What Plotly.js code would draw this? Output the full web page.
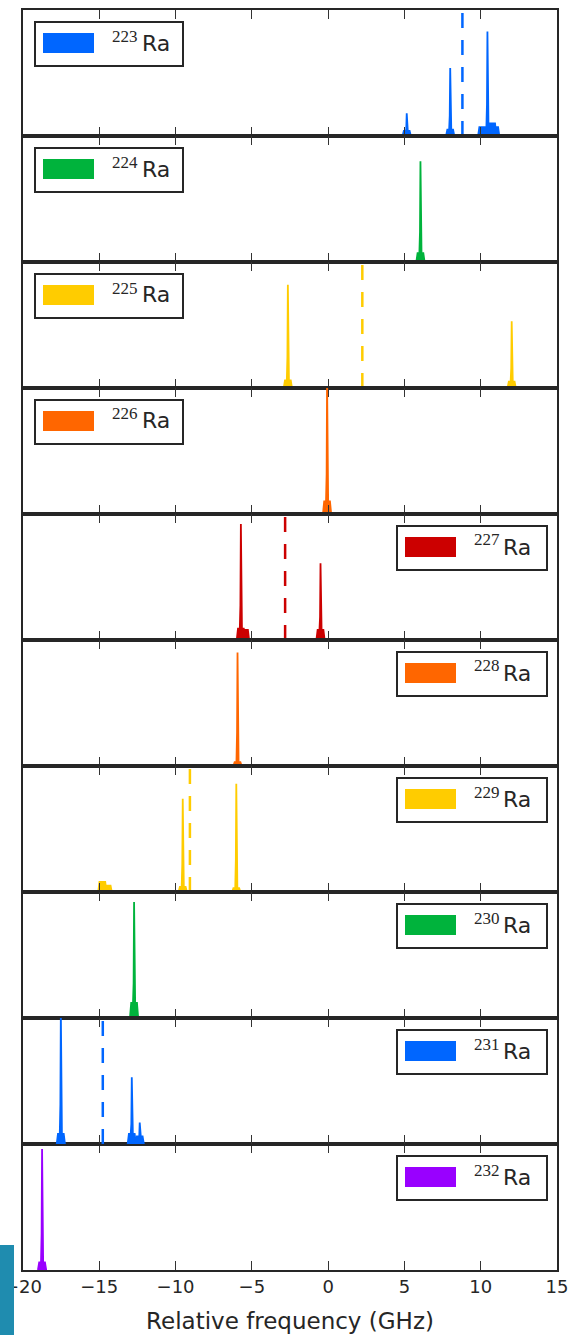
<!DOCTYPE html>
<html><head><meta charset="utf-8">
<script src="https://cdn.plot.ly/plotly-3.0.1.min.js"></script>
<style>html,body{margin:0;padding:0;background:#fff;} #chart{width:572px;height:1335px;}</style>
</head><body><div id="chart"></div>
<script>
// ---- data ----
const isotopes = ['223','224','225','226','227','228','229','230','231','232'];
const colors = ['#0066ff','#00b33c','#ffcc00','#ff6600','#cc0000','#ff6600','#ffcc00','#00b33c','#0066ff','#9900ff'];
const legendSide = ['left','left','left','left','right','right','right','right','right','right'];

// peak positions (GHz), relative peak heights, relative base heights
const ra223Pos = [5.15, 8.0, 10.1, 10.44, 10.75, 10.95];
const ra223Amp = [0.18, 0.54, 0.07, 0.83, 0.10, 0.07];
const ra223Base = [0.04, 0.05, 0.07, 0.06, 0.10, 0.07];
const ra224Pos = [6.05];
const ra224Amp = [0.80];
const ra224Base = [0.07];
const ra225Pos = [-2.64, 12.03];
const ra225Amp = [0.82, 0.53];
const ra225Base = [0.06, 0.05];
const ra226Pos = [-0.07];
const ra226Amp = [1.05];
const ra226Base = [0.10];
const ra227Pos = [-5.72, -5.45, -0.5];
const ra227Amp = [0.92, 0.08, 0.61];
const ra227Base = [0.09, 0.08, 0.08];
const ra228Pos = [-5.94];
const ra228Amp = [0.90];
const ra228Base = [0.03];
const ra229Pos = [-14.8, -14.45, -9.53, -6.02];
const ra229Amp = [0.08, 0.05, 0.74, 0.86];
const ra229Base = [0.08, 0.05, 0.04, 0.03];
const ra230Pos = [-12.72];
const ra230Amp = [0.92];
const ra230Base = [0.12];
const ra231Pos = [-17.52, -12.87, -12.35];
const ra231Amp = [1.05, 0.53, 0.17];
const ra231Base = [0.08, 0.08, 0.06];
const ra232Pos = [-18.75];
const ra232Amp = [0.96];
const ra232Base = [0.06];

// centre-of-gravity (dashed) lines
const centroids = [8.8, null, 2.24, null, -2.82, null, -9.06, null, -14.77, null];
const xTickVals = [-20, -15, -10, -5, 0, 5, 10, 15];

const allPos = [ra223Pos, ra224Pos, ra225Pos, ra226Pos, ra227Pos, ra228Pos, ra229Pos, ra230Pos, ra231Pos, ra232Pos];
const allAmp = [ra223Amp, ra224Amp, ra225Amp, ra226Amp, ra227Amp, ra228Amp, ra229Amp, ra230Amp, ra231Amp, ra232Amp];
const allBase = [ra223Base, ra224Base, ra225Base, ra226Base, ra227Base, ra228Base, ra229Base, ra230Base, ra231Base, ra232Base];

// ---- figure geometry ----
const W = 572, H = 1335;
const mL = 23, mR = 15, mT = 10, mB = 65;
const plotW = W - mL - mR, plotH = H - mT - mB;
const nP = isotopes.length;
const panelH = plotH / nP;
const px2x = p => (p - mL) / plotW;
const py2y = p => (mT + plotH - p) / plotH;

const traces = [];
const layout = {
  width: W, height: H,
  margin: {l: mL, r: mR, t: mT, b: mB, pad: 0},
  paper_bgcolor: '#fff', plot_bgcolor: '#fff',
  showlegend: false,
  font: {family: 'DejaVu Sans', color: '#262626'},
  shapes: [], annotations: []
};

function peakShape(c, h, b) {
  const w = 0.27;
  const mid = Math.max(b, 0.3 * h);
  return {
    x: [c - w, c - w * 0.7, c - 0.07, c - 0.03, c, c + 0.03, c + 0.07, c + w * 0.7, c + w, c - w],
    y: [0, b, b, mid, h, mid, b, b, 0, 0]
  };
}

for (let k = 0; k < nP; k++) {
  const xa = k === nP - 1 ? 'x' : 'x' + (k + 2);
  const ya = k === nP - 1 ? 'y' : 'y' + (k + 2);
  const xKey = xa === 'x' ? 'xaxis' : 'xaxis' + xa.slice(1);
  const yKey = ya === 'y' ? 'yaxis' : 'yaxis' + ya.slice(1);
  const col = colors[k];

  allPos[k].forEach((c, i) => {
    const s = peakShape(c, allAmp[k][i], allBase[k][i]);
    traces.push({
      type: 'scatter', mode: 'lines', x: s.x, y: s.y, xaxis: xa, yaxis: ya,
      fill: 'toself', fillcolor: col, line: {color: col, width: 1.8},
      hoverinfo: 'skip'
    });
  });
  if (centroids[k] !== null) {
    traces.push({
      type: 'scatter', mode: 'lines', x: [centroids[k], centroids[k]], y: [0, 1],
      xaxis: xa, yaxis: ya, line: {color: col, width: 2.5, dash: '15px,12px'},
      hoverinfo: 'skip'
    });
  }

  layout[xKey] = {
    anchor: ya, range: [-20, 15], tickvals: xTickVals,
    ticks: 'inside', ticklen: 9, tickwidth: 1.2, tickcolor: '#333',
    showline: true, linecolor: '#262626', linewidth: 1.6, mirror: 'ticks',
    showgrid: false, zeroline: false, fixedrange: true,
    showticklabels: k === nP - 1,
    tickfont: {family: 'DejaVu Sans', size: 18, color: '#262626'}
  };
  if (k === nP - 1) {
    layout[xKey].title = {text: 'Relative frequency (GHz)', font: {family: 'DejaVu Sans', size: 23, color: '#262626'}, standoff: 16};
  }
  layout[yKey] = {
    anchor: xa, domain: [1 - (k + 1) / nP, 1 - k / nP], range: [0, 1],
    showticklabels: false, ticks: '', showline: true, mirror: true,
    linecolor: '#262626', linewidth: 2, showgrid: false, zeroline: false, fixedrange: true
  };

  // legend box
  const top = mT + panelH * k;
  const left = legendSide[k] === 'left';
  const bx0 = left ? 35 : 397, bx1 = left ? 183 : 547;
  const patch0 = left ? 43 : 405, patch1 = left ? 94 : 456;
  const supX = left ? 111 : 473, raX = left ? 141 : 502;
  layout.shapes.push({type: 'rect', xref: 'paper', yref: 'paper',
    x0: px2x(bx0), x1: px2x(bx1), y0: py2y(top + 12), y1: py2y(top + 56),
    fillcolor: '#fff', line: {color: '#262626', width: 2}, layer: 'above'});
  layout.shapes.push({type: 'rect', xref: 'paper', yref: 'paper',
    x0: px2x(patch0), x1: px2x(patch1), y0: py2y(top + 23), y1: py2y(top + 43),
    fillcolor: col, line: {width: 0}, layer: 'above'});
  layout.annotations.push({xref: 'paper', yref: 'paper', x: px2x(supX), y: py2y(top + 26),
    xanchor: 'left', yanchor: 'middle', showarrow: false, text: isotopes[k],
    font: {family: 'Liberation Serif', size: 17, color: '#262626'}, borderpad: 0});
  layout.annotations.push({xref: 'paper', yref: 'paper', x: px2x(raX), y: py2y(top + 33),
    xanchor: 'left', yanchor: 'middle', showarrow: false, text: 'Ra',
    font: {family: 'DejaVu Sans', size: 22, color: '#262626'}, borderpad: 0});
}

// teal strip at the lower-left edge of the source image
layout.shapes.push({type: 'rect', xref: 'paper', yref: 'paper',
  x0: px2x(0), x1: px2x(14), y0: py2y(H), y1: py2y(1245),
  fillcolor: '#1f8caf', line: {width: 0}, layer: 'above'});

Plotly.newPlot('chart', traces, layout, {staticPlot: true, displayModeBar: false});
</script></body></html>
